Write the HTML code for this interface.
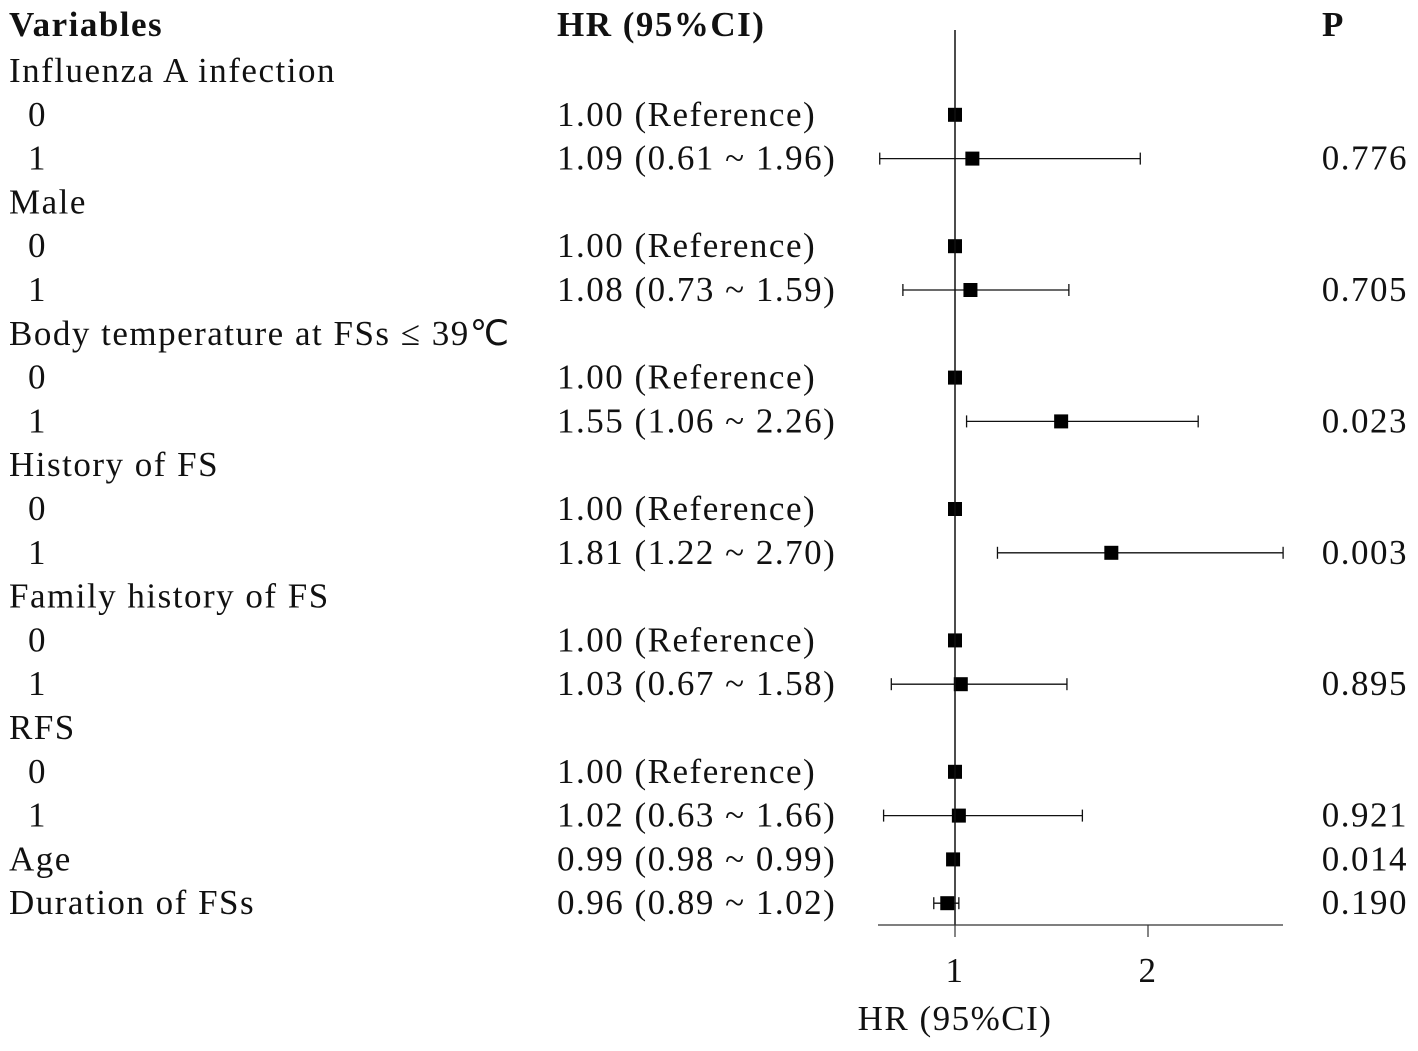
<!DOCTYPE html>
<html><head><meta charset="utf-8"><style>
html,body{margin:0;padding:0;background:#fff;}
svg text{font-family:"Liberation Serif",serif;font-size:35px;letter-spacing:1.5px;fill:#111;}
</style></head><body>
<svg id="chart" width="1418" height="1046" xmlns="http://www.w3.org/2000/svg">
<text x="9" y="36" font-weight="bold">Variables</text>
<text x="557" y="36" font-weight="bold">HR (95%CI)</text>
<text x="1322" y="36" font-weight="bold">P</text>
<g id="rows"></g>
<line x1="955" y1="30" x2="955" y2="925" stroke="#111" stroke-width="1.5"/>
<line x1="878" y1="925" x2="1283" y2="925" stroke="#333" stroke-width="1.2"/>
<g id="ticks"></g>
<text x="955" y="1030" text-anchor="middle">HR (95%CI)</text>
</svg>
<script>
const labels=["Influenza A infection","0","1","Male","0","1","Body temperature at FSs ≤ 39℃","0","1","History of FS","0","1","Family history of FS","0","1","RFS","0","1","Age","Duration of FSs"];
const indent=[0,1,1,0,1,1,0,1,1,0,1,1,0,1,1,0,1,1,0,0];
const hr=[null,1,1.09,null,1,1.08,null,1,1.55,null,1,1.81,null,1,1.03,null,1,1.02,0.99,0.96];
const lo=[null,null,0.61,null,null,0.73,null,null,1.06,null,null,1.22,null,null,0.67,null,null,0.63,0.98,0.89];
const hi=[null,null,1.96,null,null,1.59,null,null,2.26,null,null,2.70,null,null,1.58,null,null,1.66,0.99,1.02];
const hrText=["","1.00 (Reference)","1.09 (0.61 ~ 1.96)","","1.00 (Reference)","1.08 (0.73 ~ 1.59)","","1.00 (Reference)","1.55 (1.06 ~ 2.26)","","1.00 (Reference)","1.81 (1.22 ~ 2.70)","","1.00 (Reference)","1.03 (0.67 ~ 1.58)","","1.00 (Reference)","1.02 (0.63 ~ 1.66)","0.99 (0.98 ~ 0.99)","0.96 (0.89 ~ 1.02)"];
const pText=["","","0.776","","","0.705","","","0.023","","","0.003","","","0.895","","","0.921","0.014","0.190"];
const xTicks=[1,2];
const X=v=>955+(v-1)*193;
const Y=i=>71+i*43.8;
const NS="http://www.w3.org/2000/svg";
const g=document.getElementById('rows');
function mk(t,a){const e=document.createElementNS(NS,t);for(const k in a)e.setAttribute(k,a[k]);return e;}
labels.forEach((l,i)=>{
  const y=Y(i)+11;
  const t=mk('text',{x:indent[i]?28:9,y:y});t.textContent=l;
  
  
  g.appendChild(t);
  if(hrText[i]){const h=mk('text',{x:557,y:y});h.textContent=hrText[i];
    
    
    g.appendChild(h);}
  if(pText[i]){const p=mk('text',{x:1408,y:y,'text-anchor':'end'});p.textContent=pText[i];
    
    
    g.appendChild(p);}
  if(lo[i]!==null){
    const yc=Y(i);
    const ln=mk('line',{x1:X(lo[i]),x2:X(hi[i]),y1:yc,y2:yc,stroke:'#111','stroke-width':1.3});
    
    
    g.appendChild(ln);
    [lo[i],hi[i]].forEach(v=>{const c=mk('line',{x1:X(v),x2:X(v),y1:yc-6,y2:yc+6,stroke:'#111','stroke-width':1.3});
      
      
      g.appendChild(c);});
  }
  if(hr[i]!==null){
    const s=mk('rect',{x:X(hr[i])-7,y:Y(i)-7,width:14,height:14,fill:'#000'});
    
    
    g.appendChild(s);
  }
});
const tg=document.getElementById('ticks');
xTicks.forEach(v=>{
  const l=mk('line',{x1:X(v),x2:X(v),y1:925,y2:937,stroke:'#333','stroke-width':1.2});
  
  
  tg.appendChild(l);
  const t=mk('text',{x:X(v),y:982,'text-anchor':'middle'});t.textContent=v;
  
  
  tg.appendChild(t);
});
</script>
</body></html>
